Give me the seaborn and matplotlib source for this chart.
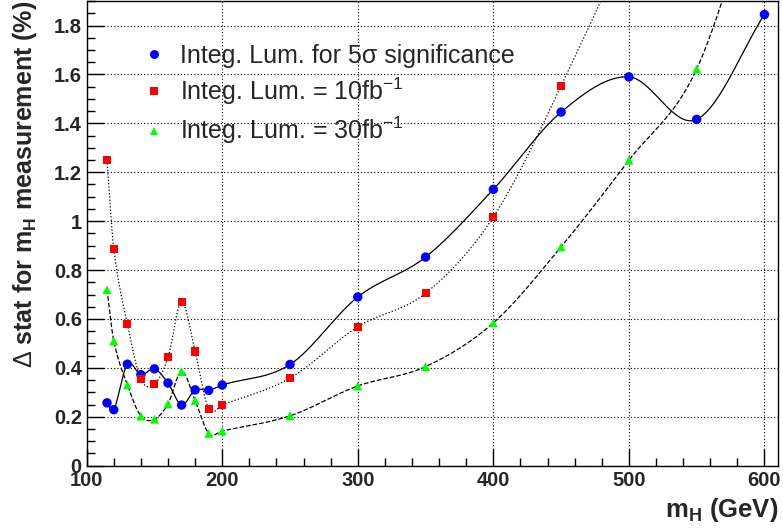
import numpy as np
import pandas as pd
import seaborn as sns
import matplotlib.pyplot as plt
from matplotlib.lines import Line2D
from matplotlib.ticker import MultipleLocator, FuncFormatter

sns.set_style("ticks")
plt.rcParams['font.family'] = ['Liberation Sans', 'DejaVu Sans']
plt.rcParams['mathtext.fontset'] = 'custom'
plt.rcParams['mathtext.rm'] = 'Liberation Sans'
plt.rcParams['mathtext.it'] = 'Liberation Sans:italic'
plt.rcParams['mathtext.bf'] = 'Liberation Sans:bold'

# Datos
mass_5sigma = [115, 120, 130, 140, 150, 160, 170, 180, 190, 200, 250, 300, 350, 400, 450, 500, 550, 600]
stat_5sigma = [0.257, 0.229, 0.415, 0.372, 0.396, 0.338, 0.248, 0.310, 0.308, 0.330,
               0.414, 0.690, 0.853, 1.130, 1.446, 1.590, 1.416, 1.845]

mass_10fb = [115, 120, 130, 140, 150, 160, 170, 180, 190, 200, 250, 300, 350, 400, 450, 500, 550]
stat_10fb = [1.250, 0.886, 0.580, 0.354, 0.334, 0.443, 0.670, 0.467, 0.232, 0.249,
             0.358, 0.568, 0.705, 1.017, 1.554, 2.20, 3.20]  # 500 y 550 fuera del rango visible

mass_30fb = [115, 120, 130, 140, 150, 160, 170, 180, 190, 200, 250, 300, 350, 400, 450, 500, 550, 600]
stat_30fb = [0.720, 0.510, 0.330, 0.203, 0.190, 0.253, 0.385, 0.267, 0.132, 0.142,
             0.204, 0.326, 0.405, 0.584, 0.895, 1.249, 1.622, 2.45]  # 600 fuera del rango

labels = ['Integ. Lum. for 5\u03c3 significance',
          'Integ. Lum. = 10fb$^{-1}$',
          'Integ. Lum. = 30fb$^{-1}$']


def smooth_curve(x, y, n=40):
    # Curva suave tipo Hermite (pendientes por diferencias centradas)
    x = np.asarray(x, float)
    y = np.asarray(y, float)
    m = np.empty_like(y)
    m[1:-1] = (y[2:] - y[:-2]) / (x[2:] - x[:-2])
    m[0] = (y[1] - y[0]) / (x[1] - x[0])
    m[-1] = (y[-1] - y[-2]) / (x[-1] - x[-2])
    xs, ys = [], []
    for i in range(len(x) - 1):
        h = x[i + 1] - x[i]
        t = np.linspace(0, 1, n, endpoint=False)
        h00 = 2 * t**3 - 3 * t**2 + 1
        h10 = t**3 - 2 * t**2 + t
        h01 = -2 * t**3 + 3 * t**2
        h11 = t**3 - t**2
        xs.append(x[i] + t * h)
        ys.append(h00 * y[i] + h10 * h * m[i] + h01 * y[i + 1] + h11 * h * m[i + 1])
    xs.append([x[-1]])
    ys.append([y[-1]])
    return np.concatenate(xs), np.concatenate(ys)


fig = plt.figure(figsize=(7.83, 5.28), dpi=100)
ax = fig.add_axes([0.1107, 0.118, 0.8829, 0.880])

series = [
    (mass_5sigma, stat_5sigma, '-', 'o', '#0000ff', 6.8),
    (mass_10fb, stat_10fb, ':', 's', '#ff0000', 5.8),
    (mass_30fb, stat_30fb, '--', '^', '#00ff00', 6.4),
]

handles = []
for (mx, sy, ls, mk, col, ms), lab in zip(series, labels):
    cx, cy = smooth_curve(mx, sy)
    sns.lineplot(x=cx, y=cy, ax=ax, color='black', linestyle=ls, linewidth=0.9,
                 sort=False, estimator=None, zorder=2)
    df = pd.DataFrame({'mH': mx, 'stat': sy})
    sns.scatterplot(data=df, x='mH', y='stat', ax=ax, marker=mk, color=col,
                    s=ms**2, edgecolor='none', linewidth=0, zorder=3)
    handles.append(Line2D([], [], linestyle='none', marker=mk, color=col,
                          markersize=ms * 0.95, markeredgewidth=0))

ax.set_xlim(100, 610)
ax.set_ylim(0, 1.9)

ax.xaxis.set_major_locator(MultipleLocator(100))
ax.xaxis.set_minor_locator(MultipleLocator(20))
ax.yaxis.set_major_locator(MultipleLocator(0.2))
ax.yaxis.set_minor_locator(MultipleLocator(0.05))
ax.yaxis.set_major_formatter(FuncFormatter(lambda v, p: f'{v:g}'))

ax.tick_params(which='both', direction='in', top=False, right=False, color='black')
ax.tick_params(which='major', length=12, width=1, labelsize=14.5)
ax.tick_params(which='minor', length=6, width=1)
ax.tick_params(axis='x', which='major', pad=4)
ax.tick_params(axis='y', which='major', pad=3.5)
for lab in ax.get_xticklabels() + ax.get_yticklabels():
    lab.set_fontweight('bold')

ax.grid(True, which='major', linestyle=(0, (1, 2)), color='black', linewidth=0.8)
for sp in ax.spines.values():
    sp.set_visible(True)
    sp.set_color('black')
    sp.set_linewidth(1)

ax.set_xlabel('m$_\\mathbf{H}$ (GeV)', fontsize=18.5, fontweight='bold', loc='right', labelpad=4)
ax.set_ylabel('$\\Delta$ stat for m$_\\mathbf{H}$ measurement (%)', fontsize=18,
              fontweight='bold', loc='top', labelpad=11)

ax.legend(handles=handles, labels=labels, loc='upper left', bbox_to_anchor=(0.0646, 0.93),
          frameon=False, fontsize=18, handlelength=1.0, handletextpad=0.55,
          labelspacing=0.32, borderaxespad=0)

fig.savefig('out.png', dpi=100)
plt.close(fig)
